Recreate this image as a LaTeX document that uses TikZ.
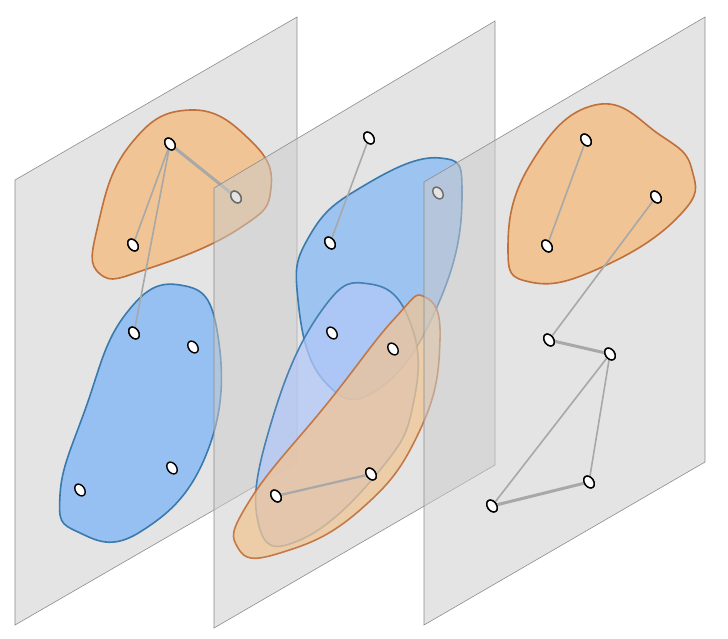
\documentclass[tikz,border=0pt]{standalone}
\definecolor{pfill}{RGB}{203,203,203}
\definecolor{ofill}{RGB}{240,196,148}
\definecolor{oline}{RGB}{192,112,58}
\definecolor{bfill}{RGB}{150,192,242}
\definecolor{bline}{RGB}{58,122,173}
\definecolor{eline}{RGB}{168,168,168}
\tikzset{
 plane/.style={fill=pfill,fill opacity=0.52,draw=gray!90,line width=0.6pt},
 oblob/.style={fill=ofill,draw=oline,line width=1.6pt},
 bblob/.style={fill=bfill,draw=bline,line width=1.6pt},
 vtx/.style={ellipse,draw=black,fill=white,line width=1.4pt,minimum width=9pt,minimum height=13pt,inner sep=0pt,rotate=35},
 edge/.style={draw=eline,line width=1.6pt},
 tedge/.style={draw=eline,line width=3pt},
}
\usetikzlibrary{shapes.geometric}
\begin{document}
\begin{tikzpicture}[x=1pt,y=-1pt]
\useasboundingbox (0,0) rectangle (728,638);
% plane 1
\draw[plane] (15,180) -- (297,17) -- (297,462) -- (15,625) -- cycle;
\draw[oblob] plot[smooth cycle,tension=0.8] coordinates{(190,110) (250,140) (271,188) (240,228) (150,268) (100,274) (98,225) (130,145)};
\draw[bblob] plot[smooth cycle,tension=0.8] coordinates{(180,285) (217,330) (208,450) (140,532) (78,532) (60,495) (85,410) (125,315)};
\node[vtx] (a1) at (170,144) {};
\node[vtx] (a2) at (236,197) {};
\node[vtx] (a3) at (133,245) {};
\node[vtx] (a4) at (134,333) {};
\node[vtx] (a5) at (193,347) {};
\node[vtx] (a6) at (80,490) {};
\node[vtx] (a7) at (172,468) {};
\begin{scope}[on background layer/.style={}]
\end{scope}
\path[tedge] (a1) -- (a2);
\path[edge] (a1) -- (a3);
\path[edge] (a1) -- (a4);
\foreach \n in {1,2,3,4}{\node[vtx] at (a\n) {};}
% plane 2
\draw[plane] (214,188) -- (495,21) -- (495,465) -- (214,628) -- cycle;
\draw[bblob,fill opacity=0.9] plot[smooth cycle,tension=0.8] coordinates{(440,158) (462,195) (440,300) (380,388) (325,382) (298,300) (310,235) (365,185)};
\draw[bblob,fill=bfill!85!blue!60,fill opacity=0.75,draw opacity=0.9] plot[smooth cycle,tension=0.8] coordinates{(370,284) (410,322) (414,400) (380,470) (300,540) (258,522) (272,420) (322,310)};
\draw[oblob,fill opacity=0.75,draw opacity=0.9] plot[smooth cycle,tension=0.8] coordinates{(425,297) (440,340) (420,430) (360,510) (280,553) (238,548) (250,500) (330,400) (395,318)};
\node[vtx] (b1) at (369,138) {};
\node[vtx] (b2) at (330,243) {};
\node[vtx] (b3) at (438,193) {};
\node[vtx] (b4) at (332,333) {};
\node[vtx] (b5) at (393,349) {};
\node[vtx] (b6) at (276,496) {};
\node[vtx] (b7) at (371,474) {};
\path[edge] (b1) -- (b2);
\path[edge,line width=2.2pt] (b6) -- (b7);
\foreach \n in {1,2,6,7}{\node[vtx] at (b\n) {};}
% plane 3
\draw[plane] (424,182) -- (705,17) -- (705,462) -- (424,625) -- cycle;
\draw[oblob] plot[smooth cycle,tension=0.8] coordinates{(595,105) (660,135) (692,170) (680,215) (600,268) (530,282) (508,248) (530,165)};
\node[vtx] (c1) at (586,140) {};
\node[vtx] (c2) at (656,197) {};
\node[vtx] (c3) at (547,246) {};
\node[vtx] (c4) at (549,340) {};
\node[vtx] (c5) at (610,354) {};
\node[vtx] (c6) at (589,482) {};
\node[vtx] (c7) at (492,506) {};
\path[edge] (c1) -- (c3);
\path[edge] (c2) -- (c4);
\path[tedge] (c4) -- (c5);
\path[edge] (c5) -- (c7);
\path[edge] (c5) -- (c6);
\path[tedge] (c6) -- (c7);
\foreach \n in {1,...,7}{\node[vtx] at (c\n) {};}
\end{tikzpicture}
\end{document}
